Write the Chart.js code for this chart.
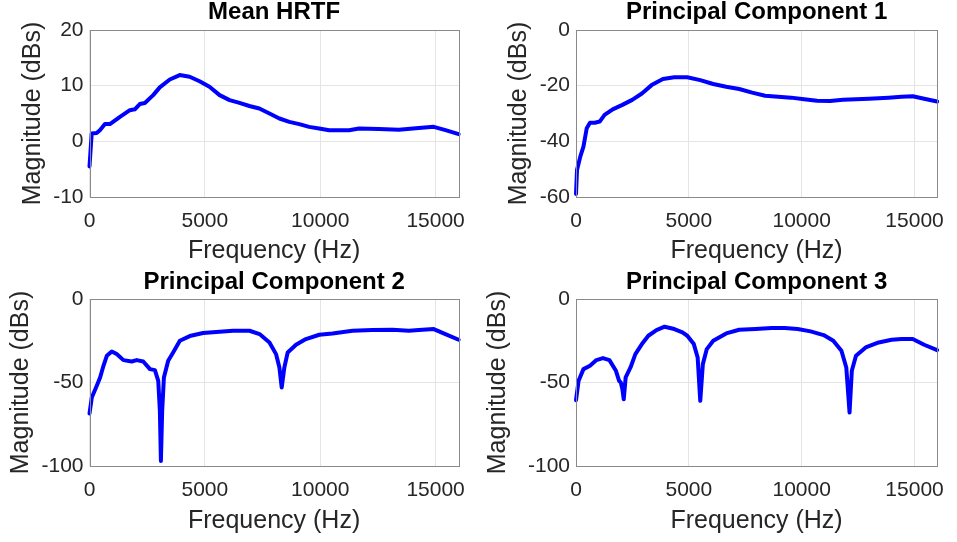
<!DOCTYPE html>
<html>
<head>
<meta charset="utf-8">
<script src="https://cdn.jsdelivr.net/npm/chart.js@4.4.1/dist/chart.umd.min.js"></script>
<style>
  body { margin: 0; background: #fff; }
  canvas { position: absolute; }
</style>
</head>
<body>
<canvas id="c_mean" width="478" height="271" style="left:0;top:0"></canvas>
<canvas id="c_pc1" width="479" height="271" style="left:478px;top:0"></canvas>
<canvas id="c_pc2" width="478" height="272" style="left:0;top:270px"></canvas>
<canvas id="c_pc3" width="479" height="272" style="left:478px;top:270px"></canvas>
<script>
// x tick labels shared by all four panels
var freqTicks = [0, 5000, 10000, 15000];

// Mean HRTF
var meanFreq = [0, 95, 310, 450, 670, 885, 1320, 1750, 1965, 2180, 2400, 2760, 3045, 3480, 3910, 4340, 4770, 5200, 5640, 6070, 6500, 6930, 7360, 7800, 8230, 8660, 9090, 9520, 9950, 10390, 11250, 11680, 12540, 13410, 14270, 14920, 15430, 16000];
var meanMag  = [-4.5, 1.4, 1.5, 2.0, 3.1, 3.1, 4.4, 5.6, 5.75, 6.7, 6.9, 8.3, 9.7, 11.1, 11.9, 11.6, 10.8, 9.8, 8.3, 7.4, 6.9, 6.35, 5.9, 5.0, 4.1, 3.5, 3.1, 2.6, 2.3, 2.0, 2.0, 2.3, 2.2, 2.1, 2.4, 2.6, 2.0, 1.3];

// Principal Component 1
var pc1Freq = [0, 45, 190, 330, 475, 620, 835, 1050, 1265, 1625, 2055, 2490, 2920, 3350, 3850, 4355, 4930, 5505, 6080, 6655, 7230, 7805, 8380, 8955, 9530, 10105, 10680, 11255, 11830, 12405, 12980, 13845, 14420, 14920, 15425, 16000];
var pc1Mag  = [-58.9, -50.3, -45.5, -41.9, -35.3, -33.3, -33.3, -32.9, -30.5, -28.5, -26.9, -25.1, -22.8, -19.8, -17.6, -17.0, -17.0, -18.0, -19.4, -20.4, -21.2, -22.5, -23.6, -24.0, -24.3, -24.9, -25.4, -25.5, -25.1, -24.9, -24.7, -24.3, -24.0, -23.8, -24.7, -25.7];

// Principal Component 2
var pc2Freq = [0, 100, 315, 460, 605, 750, 965, 1180, 1470, 1830, 2045, 2330, 2620, 2835, 2980, 3050, 3095, 3150, 3225, 3410, 3625, 3915, 4345, 4920, 5640, 6215, 6935, 7370, 7800, 8085, 8230, 8330, 8445, 8590, 8950, 9380, 9960, 10530, 11400, 12260, 13125, 13845, 14275, 14920, 15425, 16000];
var pc2Mag  = [-68.6, -59, -52, -47, -40, -34, -31.4, -33, -36.6, -37.4, -36.6, -37.4, -42, -42.6, -49, -67, -97, -67, -47, -37, -32, -25, -22.2, -20.4, -19.6, -19, -19, -21, -26, -33, -41, -53, -41, -32, -27.4, -24, -21.4, -20.6, -19, -18.6, -18.4, -19, -18.6, -18, -21, -24.4];

// Principal Component 3
var pc3Freq = [0, 115, 330, 620, 905, 1195, 1480, 1770, 1910, 1985, 2055, 2115, 2200, 2415, 2630, 2920, 3205, 3565, 3925, 4355, 4715, 4930, 5220, 5390, 5505, 5620, 5795, 6080, 6655, 7230, 7950, 8670, 9245, 9820, 10395, 10970, 11400, 11760, 11975, 12120, 12220, 12405, 12835, 13410, 13985, 14420, 14920, 15425, 16000];
var pc3Mag  = [-60.6, -49, -42, -40, -36.6, -35.4, -36.6, -43, -49, -50, -54, -60, -47, -41, -33, -27, -22, -18.6, -16.6, -18, -20, -22, -27, -35, -61, -39, -30, -25, -20.6, -18.4, -18, -17.4, -17.4, -18, -19.4, -21.6, -25, -31, -41, -68, -43, -34, -29, -26, -24.4, -24, -24, -27.4, -30.6];

// y tick labels per panel
var meanTicks = [-10, 0, 10, 20];
var pc1Ticks = [-60, -40, -20, 0];
var pc2Ticks = [-100, -50, 0];
var pc3Ticks = [-100, -50, 0];

var textColor = '#262626';
var fontFamily = '"Liberation Sans", Arial, Helvetica, sans-serif';

// box around the plot area, like the axes box
var boxPlugin = {
    id: 'box',
    afterDraw: function (chart) {
        var a = chart.chartArea;
        var ctx = chart.ctx;
        ctx.save();
        ctx.strokeStyle = '#8a8a8a';
        ctx.lineWidth = 1;
        ctx.strokeRect(Math.round(a.left) + 0.5, Math.round(a.top) + 0.5,
            Math.round(a.right - a.left), Math.round(a.bottom - a.top));
        ctx.restore();
    }
};

function makePanel(id, title, xs, ys, yTicks, layout) {
    var points = xs.map(function (x, i) { return { x: x, y: ys[i] }; });
    return new Chart(document.getElementById(id), {
        type: 'line',
        data: {
            datasets: [{
                data: points,
                borderColor: '#0000ff',
                borderWidth: 4,
                pointRadius: 0,
                tension: 0,
                clip: 4,
                borderJoinStyle: 'round',
                borderCapStyle: 'round'
            }]
        },
        options: {
            responsive: false,
            animation: false,
            devicePixelRatio: 1,
            layout: { padding: { left: layout.padLeft, right: layout.padRight, top: 0, bottom: layout.padBottom } },
            plugins: {
                legend: { display: false },
                tooltip: { enabled: false },
                title: {
                    display: true,
                    text: title,
                    fullSize: false,
                    color: '#000',
                    font: { family: fontFamily, size: 24, weight: 'bold', lineHeight: 1 },
                    padding: { top: 0, bottom: layout.titleGap }
                }
            },
            scales: {
                x: {
                    type: 'linear',
                    min: 0,
                    max: 16000,
                    afterBuildTicks: function (s) { s.ticks = freqTicks.map(function (v) { return { value: v }; }); },
                    afterFit: function (s) { s.height = layout.xHeight; },
                    border: { display: false },
                    grid: { color: '#e4e4e4', drawTicks: false },
                    ticks: {
                        color: textColor, padding: 12, maxRotation: 0,
                        font: { family: fontFamily, size: 21 },
                        callback: function (v) { return String(v); }
                    },
                    title: {
                        display: true, text: 'Frequency (Hz)', color: textColor,
                        font: { family: fontFamily, size: 25 }, padding: 0
                    }
                },
                y: {
                    type: 'linear',
                    min: yTicks[0],
                    max: yTicks[yTicks.length - 1],
                    afterBuildTicks: function (s) { s.ticks = yTicks.map(function (v) { return { value: v }; }); },
                    afterFit: function (s) { s.width = layout.yWidth; },
                    border: { display: false },
                    grid: { color: '#e4e4e4', drawTicks: false },
                    ticks: {
                        color: textColor, padding: 6,
                        font: { family: fontFamily, size: 21 },
                        callback: function (v) { return String(v); }
                    },
                    title: {
                        display: true, text: 'Magnitude (dBs)', color: textColor,
                        font: { family: fontFamily, size: 25 }, padding: 0
                    }
                }
            }
        },
        plugins: [boxPlugin]
    });
}

makePanel('c_mean', 'Mean HRTF', meanFreq, meanMag, meanTicks,
    { padLeft: 18, yWidth: 71.5, padRight: 18, padBottom: 5, xHeight: 69, titleGap: 6 });
makePanel('c_pc1', 'Principal Component 1', pc1Freq, pc1Mag, pc1Ticks,
    { padLeft: 26, yWidth: 72, padRight: 10, padBottom: 5, xHeight: 69, titleGap: 6 });
makePanel('c_pc2', 'Principal Component 2', pc2Freq, pc2Mag, pc2Ticks,
    { padLeft: 6, yWidth: 83.5, padRight: 18, padBottom: 6, xHeight: 70, titleGap: 5 });
makePanel('c_pc3', 'Principal Component 3', pc3Freq, pc3Mag, pc3Ticks,
    { padLeft: 5, yWidth: 93, padRight: 10, padBottom: 6, xHeight: 70, titleGap: 5 });
</script>
</body>
</html>
